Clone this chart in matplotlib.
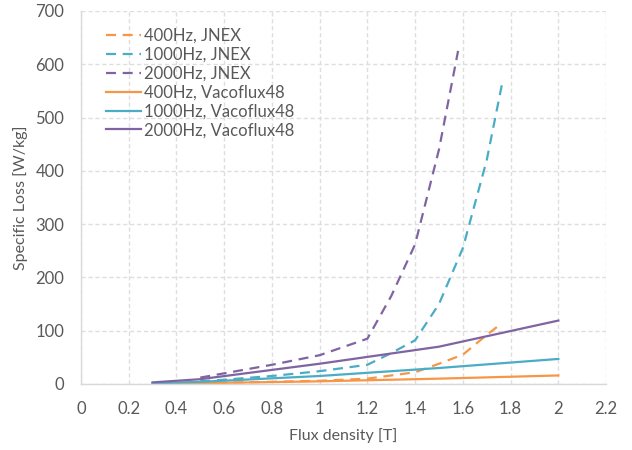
import matplotlib
matplotlib.use('Agg')
import matplotlib.pyplot as plt

plt.rcParams['font.family'] = ['Lato', 'DejaVu Sans']

# JNEX (dashed)
jnex_400_b = [0.5, 0.6, 0.8, 1.0, 1.2, 1.4, 1.5, 1.6, 1.7, 1.76]
jnex_400_p = [2, 2.5, 4, 6, 10, 22, 38, 55, 92, 113]
jnex_1000_b = [0.5, 0.6, 0.8, 1.0, 1.2, 1.3, 1.4, 1.5, 1.6, 1.7, 1.765]
jnex_1000_p = [5, 8, 15, 24, 36, 58, 82, 150, 255, 420, 565]
jnex_2000_b = [0.5, 0.6, 0.8, 1.0, 1.2, 1.3, 1.4, 1.5, 1.58]
jnex_2000_p = [12, 20, 36, 54, 85, 165, 262, 440, 625]

# Vacoflux48 (solid)
vaco_b = [0.3, 0.5, 1.0, 1.5, 2.0]
vaco_400_p = [0.5, 1.5, 5, 10, 16]
vaco_1000_p = [1.5, 4, 15, 30, 47]
vaco_2000_p = [3, 9, 38, 70, 119]

orange = '#F79646'
aqua = '#4BACC6'
purple = '#8064A2'
txt = '#595959'

fig = plt.figure(figsize=(6.32, 4.5), dpi=100)
ax = fig.add_axes([0.128, 0.1467, 0.831, 0.829])

dash = (0, (4.5, 3))
ax.plot(jnex_400_b, jnex_400_p, color=orange, lw=1.6, linestyle=dash, label='400Hz, JNEX')
ax.plot(jnex_1000_b, jnex_1000_p, color=aqua, lw=1.6, linestyle=dash, label='1000Hz, JNEX')
ax.plot(jnex_2000_b, jnex_2000_p, color=purple, lw=1.6, linestyle=dash, label='2000Hz, JNEX')
ax.plot(vaco_b, vaco_400_p, color=orange, lw=1.6, label='400Hz, Vacoflux48')
ax.plot(vaco_b, vaco_1000_p, color=aqua, lw=1.6, label='1000Hz, Vacoflux48')
ax.plot(vaco_b, vaco_2000_p, color=purple, lw=1.6, label='2000Hz, Vacoflux48')

ax.set_xlim(0, 2.2)
ax.set_ylim(0, 700)
ax.set_xticks([0, 0.2, 0.4, 0.6, 0.8, 1, 1.2, 1.4, 1.6, 1.8, 2, 2.2])
ax.set_xticklabels(['0', '0.2', '0.4', '0.6', '0.8', '1', '1.2', '1.4', '1.6', '1.8', '2', '2.2'])
ax.set_yticks(range(0, 701, 100))

ax.grid(True, color='#dedede', linestyle=(0, (3, 2)), linewidth=1)
ax.set_axisbelow(True)
for s in ['top', 'right']:
    ax.spines[s].set_visible(False)
for s in ['left', 'bottom']:
    ax.spines[s].set_color('#d9d9d9')
    ax.spines[s].set_linewidth(1)
ax.tick_params(length=0, labelsize=12, colors=txt)
ax.tick_params(axis='x', pad=12)
ax.tick_params(axis='y', pad=12)

ax.set_xlabel('Flux density [T]', fontsize=11.5, color=txt, labelpad=8)
ax.set_ylabel('Specific Loss [W/kg]', fontsize=11.5, color=txt, labelpad=5)

leg = ax.legend(loc='upper left', bbox_to_anchor=(0.035, 0.972), frameon=False,
                fontsize=12, handlelength=2.1, handletextpad=0.2,
                labelspacing=0.17, borderaxespad=0)
for t in leg.get_texts():
    t.set_color(txt)

fig.savefig('out.png', dpi=100)
